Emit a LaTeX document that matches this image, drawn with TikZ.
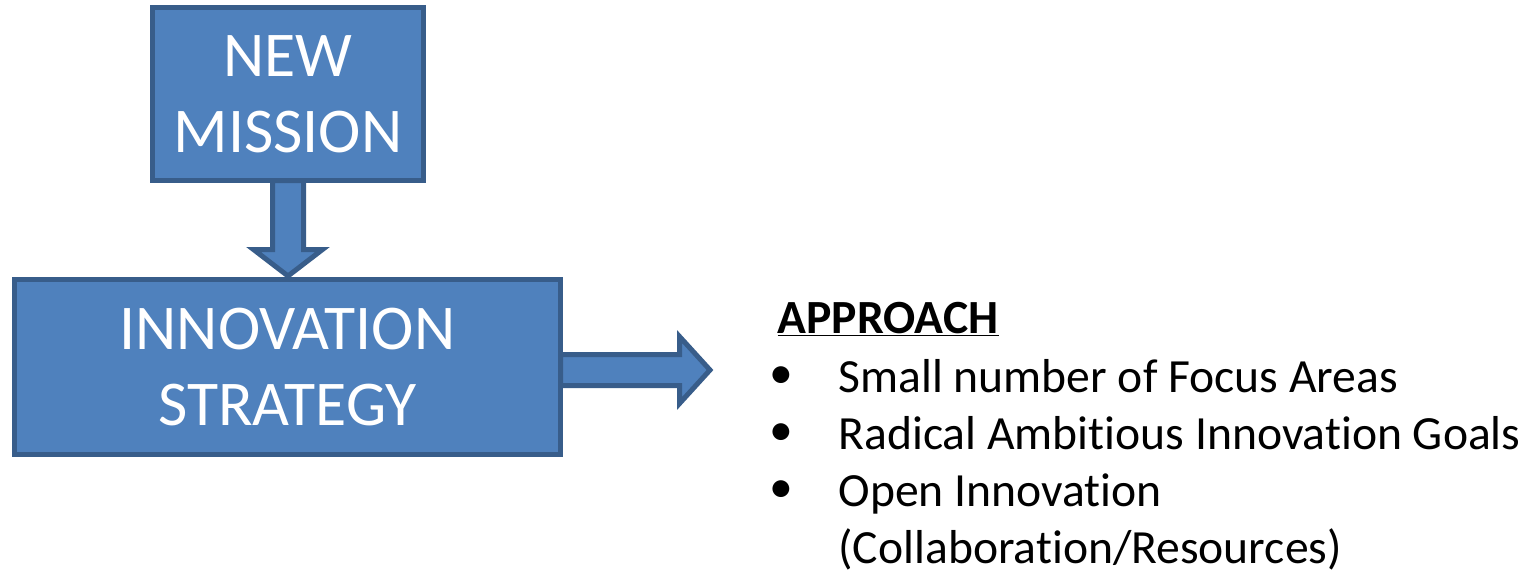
\documentclass[tikz,border=0pt]{standalone}
\usepackage{fontspec}
\setmainfont{Carlito}[Ligatures=NoCommon]
\usepackage{tikz}

\definecolor{boxfill}{RGB}{79,129,189}
\definecolor{boxline}{RGB}{56,93,138}

\begin{document}
\begin{tikzpicture}[line width=0.1cm, line join=miter,
    bloque/.style={rectangle, draw=boxline, fill=boxfill, text=white, align=center,
        font=\fontsize{36.3}{43.5}\selectfont},
    flecha/.style={draw=boxline, fill=boxfill},
    lista/.style={anchor=base west, inner sep=0pt, font=\fontsize{27.1}{32}\selectfont}]
    \useasboundingbox (0,0) rectangle (30.68,-11.48);

    % Cajas
    \node[bloque, minimum width=5.42cm, minimum height=3.46cm] (mission) at (5.76,-1.88) {NEW\\MISSION};
    \node[bloque, minimum width=10.92cm, minimum height=3.5cm] (innov) at (5.75,-7.34) {INNOVATION\\STRATEGY};

    % Flechas
    \draw[flecha] ([xshift=-0.31cm, yshift=0.05cm]mission.south) -- ++(0,-1.38) -- ++(-0.38,0)
        -- ++(0.69,-0.53) -- ++(0.69,0.53) -- ++(-0.38,0) -- ++(0,1.38) -- cycle;
    \draw[flecha] ([xshift=-0.05cm, yshift=0.25cm]innov.east) -- ++(2.38,0) -- ++(0,0.36)
        -- ++(0.61,-0.67) -- ++(-0.61,-0.67) -- ++(0,0.36) -- ++(-2.38,0) -- cycle;

    % Texto
    \node[lista] (approach) at (15.5,-6.66) {\underline{\textbf{APPROACH}}};
    \node[lista] (bul1) at (15.34,-7.76) {•};
    \node[lista] (item1) at (16.72,-7.84) {Small number of Focus Areas};
    \node[lista] (bul2) at (15.34,-8.9) {•};
    \node[lista] (item2) at (16.72,-8.98) {Radical Ambitious Innovation Goals};
    \node[lista] (bul3) at (15.34,-10.05) {•};
    \node[lista] (item3) at (16.72,-10.13) {Open Innovation};
    \node[lista] (item4) at (16.72,-11.27) {(Collaboration/Resources)};
\end{tikzpicture}
\end{document}
